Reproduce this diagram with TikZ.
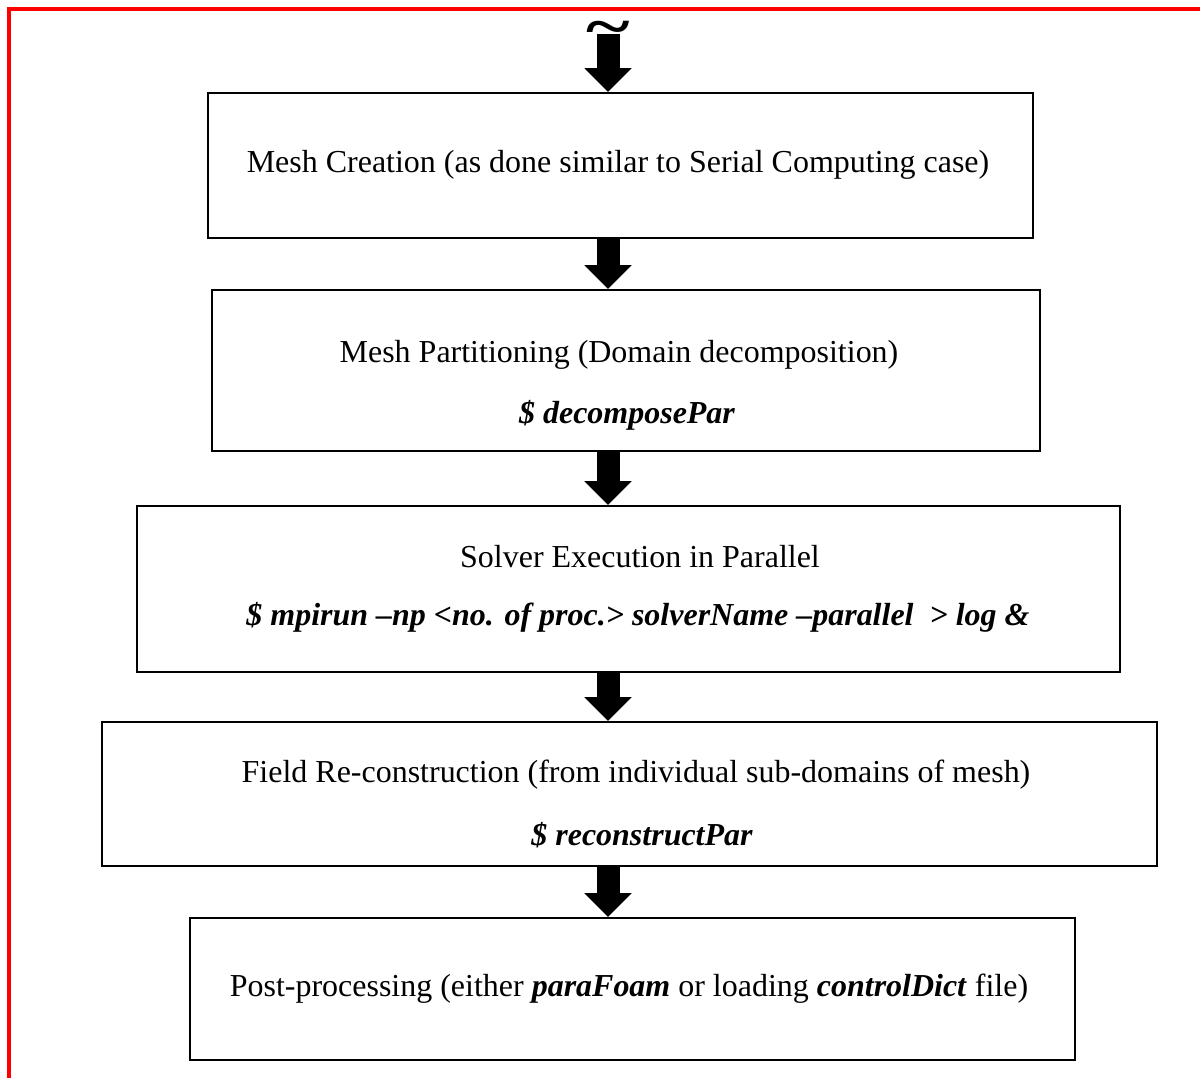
\documentclass[tikz,border=0pt]{standalone}
\usepackage{fontspec}
\setmainfont{Liberation Serif}
\usetikzlibrary{positioning,arrows.meta}

\tikzset{
  stepbox/.style={draw,line width=0.04cm,inner sep=0pt},
  steptext/.style={font=\fontsize{18.2}{21}\selectfont,inner sep=0pt},
  cmdtext/.style={font=\fontsize{18.2}{21}\selectfont\bfseries\itshape,inner sep=0pt},
  flowarrow/.style={line width=0.46cm,-{Triangle[width=0.92cm,length=0.48cm]}}
}

\begin{document}
\begin{tikzpicture}[x=0.02cm,y=-0.02cm]
  \useasboundingbox (0,0) rectangle (1200,1078);
  % red frame
  \draw[red,line width=0.065cm] (9,1078) -- (9,9) -- (1200,9);

  % boxes
  \node[stepbox,minimum width=16.5cm,minimum height=2.9cm] (mesh) at (620.5,165.5) {};
  \node[stepbox,minimum width=16.56cm,minimum height=3.22cm] (decomp) at (626,370.5) {};
  \node[stepbox,minimum width=19.66cm,minimum height=3.32cm] (solver) at (628.5,589) {};
  \node[stepbox,minimum width=21.1cm,minimum height=2.88cm] (recon) at (629.5,794) {};
  \node[stepbox,minimum width=17.7cm,minimum height=2.84cm] (post) at (632.5,989) {};

  % texts
  \node[steptext] (meshA) at (618,165) {Mesh Creation (as done similar to Serial Computing case)};
  \node[steptext] (decompA) at (619,355) {Mesh Partitioning (Domain decomposition)};
  \node[cmdtext] (decompB) at (627,415) {\$ decomposePar};
  \node[steptext] (solverA) at (640,557) {Solver Execution in Parallel};
  \node[cmdtext] (solverB) at (638,617) {\$ mpirun –np <no. of proc.> solverName –parallel \ > log \&};
  \node[steptext] (reconA) at (636,775) {Field Re-construction (from individual sub-domains of mesh)};
  \node[cmdtext] (reconB) at (642,835) {\$ reconstructPar};
  \node[steptext] (postA) at (629,989) {Post-processing (either \textbf{\textit{paraFoam}} or loading \textbf{\textit{controlDict}} file)};

  % arrows
  \coordinate (col) at (608,0);
  \coordinate (start) at (608,34);
  \node[font=\fontsize{34}{34}\selectfont\bfseries,inner sep=0pt,xscale=1.4] (tilde) at (608,34) {\textasciitilde};
  \draw[flowarrow] (start) -- (mesh.north -| col);
  \draw[flowarrow] (mesh.south -| col) -- (decomp.north -| col);
  \draw[flowarrow] (decomp.south -| col) -- (solver.north -| col);
  \draw[flowarrow] (solver.south -| col) -- (recon.north -| col);
  \draw[flowarrow] (recon.south -| col) -- (post.north -| col);
\end{tikzpicture}
\end{document}
